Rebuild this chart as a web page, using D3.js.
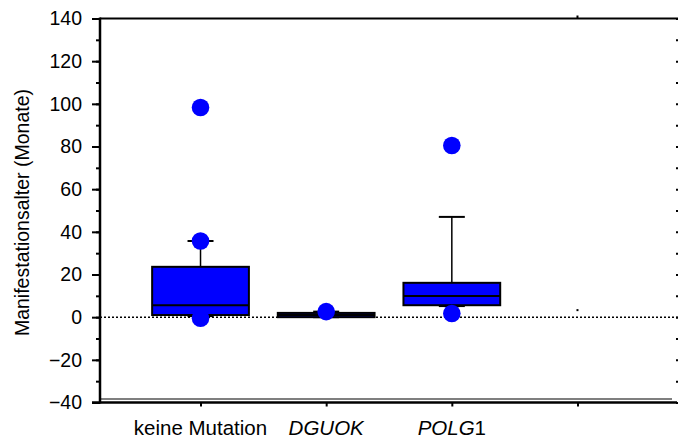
<!DOCTYPE html>
<html>
<head>
<meta charset="utf-8">
<script src="https://cdn.jsdelivr.net/npm/d3@7"></script>
<style>
  body { margin: 0; background: #fff; }
  text { font-family: "Liberation Sans", Arial, sans-serif; fill: #000; }
</style>
</head>
<body>
<script>
// groups along the x axis (last one has no label, only a stray dot)
var categories = ["keine Mutation", "DGUOK", "POLG1", "leer"];
var labels = ["keine Mutation", "DGUOK", "POLG1", ""];
// gene names are set in italics
var italicPart = ["", "DGUOK", "POLG", ""];

// box plot values, months
var q1 = [1, 0, 5.6, null];
var median = [5.6, 1, 9.9, null];
var q3 = [23.6, 2, 16.1, null];
var whiskerLow = [0.5, 0, 5.2, null];
var whiskerHigh = [35.7, 2.6, 47, null];

// single points drawn as blue dots
var pointGroup = ["keine Mutation", "keine Mutation", "keine Mutation", "DGUOK", "POLG1", "POLG1"];
var pointValue = [98.3, 35.7, -0.5, 2.6, 80.5, 1.7];

// tiny mark in the empty fourth group
var strayGroup = ["leer"];
var strayValue = [3.3];

var yTicks = d3.range(-40, 141, 20);
var yMinor = d3.range(-40, 141, 10);

var width = 678, height = 438;

var svg = d3.select("body").append("svg")
  .attr("width", width)
  .attr("height", height);

// plot frame (note: "top" is taken by window.top)
var pLeft = 100, pRight = 678, pTop = 18.5, pBottom = 402.5;

var y = d3.scaleLinear().domain([-40, 140]).range([pBottom, pTop]);
var x = d3.scalePoint().domain(categories).range([pLeft, pRight]).padding(0.8);
var boxW = x.step() * 0.77;
var capW = 26;

// zero reference line, dotted
svg.append("line")
  .attr("x1", pLeft).attr("x2", pRight)
  .attr("y1", y(0)).attr("y2", y(0))
  .attr("stroke", "#000").attr("stroke-width", 1.5)
  .attr("stroke-dasharray", "2,2");

// boxes
var g = svg.append("g");
categories.forEach(function(c, i) {
  if (q1[i] == null) return;
  var cx = x(c);
  // whisker
  g.append("line")
    .attr("x1", cx).attr("x2", cx)
    .attr("y1", y(whiskerHigh[i])).attr("y2", y(whiskerLow[i]))
    .attr("stroke", "#000").attr("stroke-width", 1.5);
  [whiskerHigh[i], whiskerLow[i]].forEach(function(v) {
    g.append("line")
      .attr("x1", cx - capW / 2).attr("x2", cx + capW / 2)
      .attr("y1", y(v)).attr("y2", y(v))
      .attr("stroke", "#000").attr("stroke-width", 2);
  });
  g.append("rect")
    .attr("x", cx - boxW / 2)
    .attr("width", boxW)
    .attr("y", y(q3[i]))
    .attr("height", Math.max(y(q1[i]) - y(q3[i]), 1))
    .attr("fill", "#0000ff")
    .attr("stroke", "#000").attr("stroke-width", 2);
  g.append("line")
    .attr("x1", cx - boxW / 2).attr("x2", cx + boxW / 2)
    .attr("y1", y(median[i])).attr("y2", y(median[i]))
    .attr("stroke", "#000").attr("stroke-width", 2);
});

// dots
svg.append("g").selectAll("circle")
  .data(pointValue)
  .enter().append("circle")
  .attr("cx", function(d, i) { return x(pointGroup[i]); })
  .attr("cy", function(d) { return y(d); })
  .attr("r", 8.8)
  .attr("fill", "#0000ff");

svg.append("g").selectAll("rect")
  .data(strayValue)
  .enter().append("rect")
  .attr("x", function(d, i) { return x(strayGroup[i]) - 1; })
  .attr("y", function(d) { return y(d) - 1; })
  .attr("width", 2).attr("height", 2)
  .attr("fill", "#000");

// left axis
var yAxis = svg.append("g")
  .attr("transform", "translate(" + pLeft + ",0)")
  .call(d3.axisLeft(y).tickValues(yTicks).tickSize(8).tickPadding(10));
yAxis.select(".domain").remove();
yAxis.selectAll(".tick line").attr("stroke-width", 2);
yAxis.selectAll("text").style("font-size", "19.5px").style("font-family", "Liberation Sans, Arial, sans-serif");

svg.append("g")
  .attr("transform", "translate(" + pLeft + ",0)")
  .call(d3.axisLeft(y).tickValues(yMinor).tickSize(4).tickFormat(""))
  .call(function(s) { s.select(".domain").remove(); s.selectAll("line").attr("stroke-width", 2); });

svg.append("line")
  .attr("x1", pLeft).attr("x2", pLeft)
  .attr("y1", pTop - 1).attr("y2", pBottom + 1)
  .attr("stroke", "#000").attr("stroke-width", 2.5);

// right side: short tick marks only
svg.append("g")
  .attr("transform", "translate(" + (pRight - 2) + ",0)")
  .call(d3.axisRight(y).tickValues(yMinor).tickSize(2).tickFormat(""))
  .call(function(s) { s.select(".domain").remove(); s.selectAll("line").attr("stroke-width", 2); });

// top frame line
svg.append("line")
  .attr("x1", pLeft).attr("x2", pRight)
  .attr("y1", pTop).attr("y2", pTop)
  .attr("stroke", "#000").attr("stroke-width", 2);
svg.append("line")
  .attr("x1", x("leer")).attr("x2", x("leer"))
  .attr("y1", pTop - 3).attr("y2", pTop)
  .attr("stroke", "#000").attr("stroke-width", 2);

// bottom: double line with ticks
svg.append("line")
  .attr("x1", pLeft).attr("x2", pRight - 6)
  .attr("y1", pBottom - 3.5).attr("y2", pBottom - 3.5)
  .attr("stroke", "#000").attr("stroke-width", 1.2);

var xAxis = svg.append("g")
  .attr("transform", "translate(0," + pBottom + ")")
  .call(d3.axisBottom(x).tickSize(4).tickFormat(""));
xAxis.select(".domain").remove();
xAxis.selectAll("line").attr("stroke-width", 2);

svg.append("line")
  .attr("x1", pLeft - 8).attr("x2", pRight - 1)
  .attr("y1", pBottom).attr("y2", pBottom)
  .attr("stroke", "#000").attr("stroke-width", 2.5);

// category labels
var lab = svg.append("g").selectAll("text")
  .data(categories)
  .enter().append("text")
  .attr("x", function(d) { return x(d); })
  .attr("y", 435)
  .attr("text-anchor", "middle")
  .style("font-size", "20.5px");

lab.each(function(d, i) {
  var t = d3.select(this);
  var it = italicPart[i];
  var rest = labels[i].slice(it.length);
  if (it) t.append("tspan").style("font-style", "italic").text(it);
  if (rest) t.append("tspan").text(rest);
});

// y title
svg.append("text")
  .attr("transform", "translate(29," + ((pTop + pBottom) / 2 + 2) + ") rotate(-90)")
  .attr("text-anchor", "middle")
  .style("font-size", "19.5px")
  .text("Manifestationsalter (Monate)");
</script>
</body>
</html>
